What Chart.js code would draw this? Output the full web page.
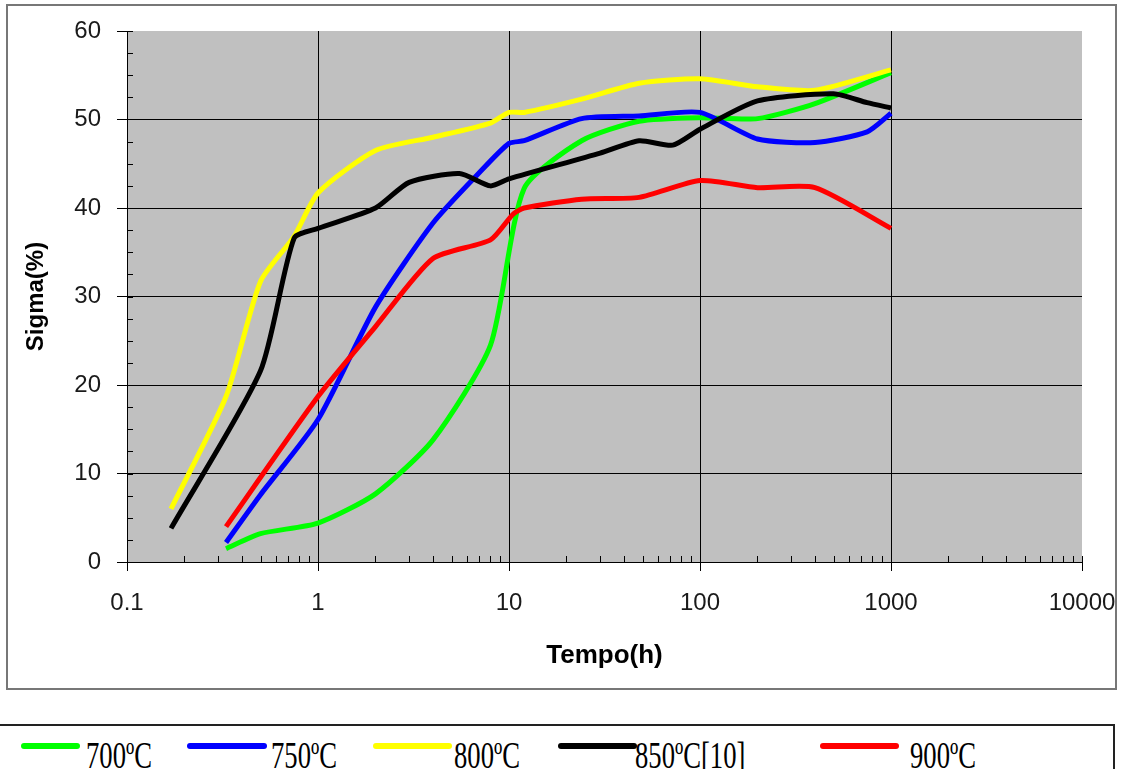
<!DOCTYPE html>
<html>
<head>
<meta charset="utf-8">
<script src="https://cdn.jsdelivr.net/npm/chart.js@4"></script>
<style>
body{margin:0;background:#fff;width:1126px;height:769px;overflow:hidden;position:relative}
#frame{position:absolute;left:6px;top:4px;width:1107px;height:682px;border:2px solid #777}
#chart{position:absolute;left:0;top:0}
#legend{position:absolute;left:-2px;top:724px;width:1113px;height:60px;border:2px solid #222}
.sw{position:absolute;height:6px;border-radius:3px;top:17px}
.lab{position:absolute;top:11px;font:37px "Liberation Serif";line-height:1;transform:scaleX(0.72);transform-origin:0 0;white-space:nowrap;color:#000}
</style>
</head>
<body>
<div id="frame"></div>
<canvas id="chart" width="1126" height="690"></canvas>
<div id="legend"></div>
<script>
// values (time in h, sigma in %)
const tempo700 = [0.33, 0.5, 1, 2, 4, 8, 12, 24, 48, 100, 200, 400, 1000]
const sigma700 = [1.5, 3.2, 4.4, 7.7, 13.8, 24.5, 42.2, 47.6, 49.8, 50.2, 50.1, 51.8, 55.3]

const tempo750 = [0.33, 0.5, 1, 2, 4, 7, 10, 12, 24, 48, 100, 200, 400, 750, 1000]
const sigma750 = [2.2, 7.6, 16.1, 28.8, 38.3, 44, 47.3, 47.6, 50.1, 50.4, 50.8, 47.8, 47.4, 48.6, 50.7]

const tempo800 = [0.17, 0.33, 0.5, 0.75, 1, 2, 4, 8, 10, 12, 24, 48, 100, 200, 400, 1000]
const sigma800 = [6, 18.7, 31.7, 36.8, 41.7, 46.5, 48, 49.6, 50.8, 50.8, 52.3, 54.1, 54.6, 53.7, 53.3, 55.6]

const tempo850 = [0.17, 0.5, 0.75, 1, 2, 3, 5.5, 8, 10, 30, 48, 72, 100, 200, 500, 750, 1000]
const sigma850 = [3.8, 21.6, 36.6, 37.7, 40, 42.9, 43.9, 42.5, 43.3, 46.2, 47.6, 47.1, 48.9, 52.1, 52.9, 51.9, 51.3]

const tempo900 = [0.33, 1, 2, 4, 8, 10.5, 12, 24, 48, 100, 200, 400, 1000]
const sigma900 = [4, 18.7, 26.6, 34.3, 36.4, 39.3, 40, 41, 41.2, 43.1, 42.3, 42.3, 37.7]

const seriesNames = ["700ºC", "750ºC", "800ºC", "850ºC[10]", "900ºC"]
const seriesColors = ["#00ff00", "#0000ff", "#ffff00", "#000000", "#ff0000"]
const xTickLabels = ["0.1", "1", "10", "100", "1000", "10000"]
const yTickLabels = [0, 10, 20, 30, 40, 50, 60]

// legend layout: swatch start, swatch end, text start
const legendPos = [[21,80,86],[187,267,271],[373,452,454],[558,637,635],[820,899,910]]

const tempos = [tempo700, tempo750, tempo800, tempo850, tempo900]
const sigmas = [sigma700, sigma750, sigma800, sigma850, sigma900]

const decades = xTickLabels.map(Number)
let xTicks = []
decades.slice(0, -1).forEach(d => {
  for(let k = 1; k <= 9; k++) xTicks.push(k * d)
})
xTicks.push(decades[decades.length - 1])

const isDecade = v => Math.abs(Math.log10(v) - Math.round(Math.log10(v))) < 1e-9
const yMin = yTickLabels[0], yMax = yTickLabels[yTickLabels.length - 1]
const xMin = decades[0], xMax = decades[decades.length - 1]

const plotBg = {
  id: "plotBg",
  beforeDraw(chart){
    const {ctx, chartArea: a} = chart
    ctx.save()
    ctx.fillStyle = "#c0c0c0"
    ctx.fillRect(a.left, a.top, a.right - a.left, a.bottom - a.top)
    ctx.restore()
  }
}

// small tick marks on the inside of both axes
const innerTicks = {
  id: "innerTicks",
  beforeDatasetsDraw(chart){
    const {ctx, chartArea: a, scales} = chart
    ctx.save()
    ctx.strokeStyle = "#000"
    ctx.lineWidth = 1
    ctx.beginPath()
    scales.x.ticks.forEach(t => {
      const px = Math.round(scales.x.getPixelForValue(t.value)) + 0.5
      ctx.moveTo(px, a.bottom); ctx.lineTo(px, a.bottom - 6)
    })
    scales.y.ticks.forEach(t => {
      const py = Math.round(scales.y.getPixelForValue(t.value)) + 0.5
      ctx.moveTo(a.left, py); ctx.lineTo(a.left + 6, py)
    })
    ctx.stroke()
    ctx.restore()
  }
}

const datasets = seriesNames.map((name, i) => ({
  label: name,
  data: tempos[i].map((t, j) => ({x: t, y: sigmas[i][j]})),
  borderColor: seriesColors[i],
  borderWidth: 5,
  pointRadius: 0,
  tension: 0.22,
  fill: false,
  order: seriesNames.length - i
}))

new Chart(document.getElementById("chart"), {
  type: "line",
  data: {datasets: datasets},
  options: {
    responsive: false,
    devicePixelRatio: 1,
    animation: false,
    layout: {padding: {left: 0, right: 44, top: 31, bottom: 0}},
    plugins: {legend: {display: false}, tooltip: {enabled: false}},
    scales: {
      x: {
        type: "logarithmic",
        min: xMin,
        max: xMax,
        afterBuildTicks: scale => {
          scale.ticks = xTicks.map(v => ({value: v, major: isDecade(v)}))
        },
        afterFit: scale => {
          scale.height = 128
          scale.paddingLeft = 0
          scale.paddingRight = 0
        },
        ticks: {
          autoSkip: false,
          maxRotation: 0,
          padding: 18,
          color: "#1a1a1a",
          font: {family: "Liberation Sans", size: 24},
          callback: v => {
            const i = decades.findIndex(d => Math.abs(d - v) < d * 1e-6)
            return i >= 0 ? xTickLabels[i] : ""
          }
        },
        grid: {
          lineWidth: 1,
          tickLength: 9,
          color: c => (c.tick && isDecade(c.tick.value) && c.tick.value > xMin && c.tick.value < xMax) ? "#000" : "rgba(0,0,0,0)",
          tickColor: c => (c.tick && isDecade(c.tick.value)) ? "#000" : "rgba(0,0,0,0)"
        },
        border: {color: "#000", width: 1},
        title: {
          display: true,
          text: "Tempo(h)",
          color: "#000",
          font: {family: "Liberation Sans", size: 26, weight: "bold"},
          padding: {top: 0, bottom: 19}
        }
      },
      y: {
        min: yMin,
        max: yMax,
        afterFit: scale => { scale.width = 127 },
        ticks: {
          stepSize: 2.5,
          autoSkip: false,
          padding: 16,
          color: "#1a1a1a",
          font: {family: "Liberation Sans", size: 24},
          callback: v => yTickLabels.includes(v) ? String(v) : ""
        },
        grid: {
          lineWidth: 1,
          tickLength: 10,
          color: c => (c.tick && c.tick.value % 10 === 0 && c.tick.value > yMin && c.tick.value < yMax) ? "#000" : "rgba(0,0,0,0)",
          tickColor: c => (c.tick && c.tick.value % 10 === 0) ? "#000" : "rgba(0,0,0,0)"
        },
        border: {color: "#000", width: 1},
        title: {
          display: true,
          text: "Sigma(%)",
          color: "#000",
          font: {family: "Liberation Sans", size: 24, weight: "bold"},
          padding: {top: 22, bottom: 0}
        }
      }
    }
  },
  plugins: [plotBg, innerTicks]
})

// legend in its own box under the chart
const legend = document.getElementById("legend")
seriesNames.forEach((name, i) => {
  const [x0, x1, tx] = legendPos[i]
  const sw = document.createElement("div")
  sw.className = "sw"
  sw.style.left = x0 + "px"
  sw.style.width = (x1 - x0) + "px"
  sw.style.background = seriesColors[i]
  legend.appendChild(sw)
  const lab = document.createElement("span")
  lab.className = "lab"
  lab.style.left = tx + "px"
  lab.textContent = name
  legend.appendChild(lab)
})
</script>
</body>
</html>
